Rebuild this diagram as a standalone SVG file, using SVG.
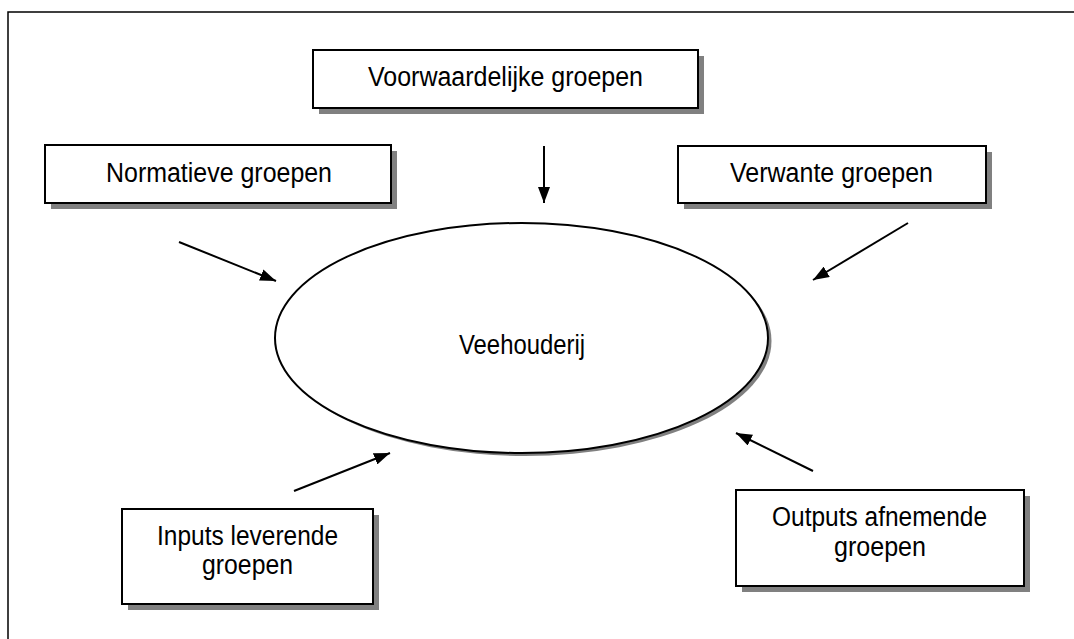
<svg xmlns="http://www.w3.org/2000/svg" width="1074" height="639" viewBox="0 0 1074 639">
<defs>
<style>
.shadow{fill:#808080;stroke:none}
.box{fill:#fff;stroke:#000;stroke-width:2}
.lbl{font-family:"Liberation Sans",Arial,sans-serif;font-size:27px;fill:#000;text-anchor:middle}
.conn{stroke:#000;stroke-width:2;fill:none}
</style>
<marker id="ah" viewBox="0 0 16 12" refX="16" refY="6" markerWidth="16" markerHeight="12" markerUnits="userSpaceOnUse" orient="auto">
<path d="M0,0 L16,6 L0,12 Z" fill="#000"/>
</marker>
</defs>
<rect width="1074" height="639" fill="#fff"/>
<path d="M8,639 V12 H1074" fill="none" stroke="#000" stroke-width="1.5"/>
<g id="voorwaardelijke">
<rect class="shadow" x="319" y="56" width="385" height="58"/>
<rect class="box" x="313" y="50" width="385" height="58"/>
<text class="lbl" x="505.5" y="86" textLength="275" lengthAdjust="spacingAndGlyphs">Voorwaardelijke groepen</text>
</g>
<g id="normatieve">
<rect class="shadow" x="51" y="151" width="346" height="58"/>
<rect class="box" x="45" y="145" width="346" height="58"/>
<text class="lbl" x="219" y="182" textLength="226" lengthAdjust="spacingAndGlyphs">Normatieve groepen</text>
</g>
<g id="verwante">
<rect class="shadow" x="684" y="152" width="308" height="57"/>
<rect class="box" x="678" y="146" width="308" height="57"/>
<text class="lbl" x="831.5" y="182" textLength="203" lengthAdjust="spacingAndGlyphs">Verwante groepen</text>
</g>
<g id="veehouderij">
<ellipse cx="525" cy="341" rx="246.5" ry="115" fill="#808080"/>
<ellipse cx="521.5" cy="338" rx="246.5" ry="115" fill="#fff" stroke="#000" stroke-width="2"/>
<text class="lbl" x="522" y="354" textLength="126" lengthAdjust="spacingAndGlyphs">Veehouderij</text>
</g>
<g id="inputs">
<rect class="shadow" x="128" y="515" width="251" height="95"/>
<rect class="box" x="122" y="509" width="251" height="95"/>
<text class="lbl" x="247.5" y="545" textLength="181" lengthAdjust="spacingAndGlyphs">Inputs leverende</text>
<text class="lbl" x="247.5" y="574" textLength="91" lengthAdjust="spacingAndGlyphs">groepen</text>
</g>
<g id="outputs">
<rect class="shadow" x="742" y="496" width="288" height="96"/>
<rect class="box" x="736" y="490" width="288" height="96"/>
<text class="lbl" x="879.5" y="526" textLength="215" lengthAdjust="spacingAndGlyphs">Outputs afnemende</text>
<text class="lbl" x="880" y="556" textLength="92" lengthAdjust="spacingAndGlyphs">groepen</text>
</g>
<g id="connectors">
<line class="conn" x1="544" y1="146" x2="544" y2="203" marker-end="url(#ah)"/>
<line class="conn" x1="179" y1="242" x2="276" y2="281" marker-end="url(#ah)"/>
<line class="conn" x1="908" y1="223" x2="813" y2="280" marker-end="url(#ah)"/>
<line class="conn" x1="294" y1="491" x2="390" y2="453" marker-end="url(#ah)"/>
<line class="conn" x1="813" y1="471" x2="736" y2="433" marker-end="url(#ah)"/>
</g>
</svg>
